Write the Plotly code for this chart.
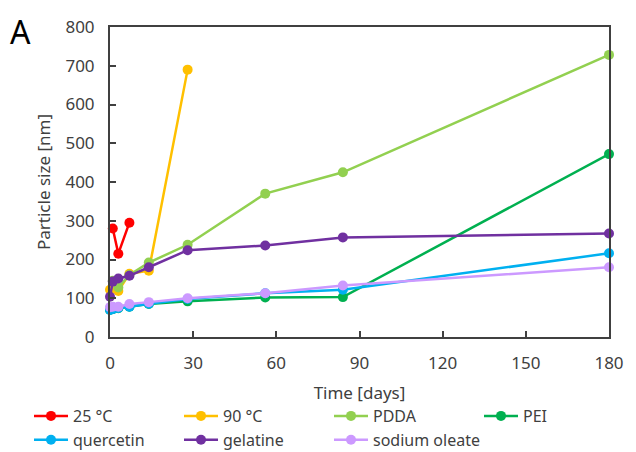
import plotly.graph_objects as go

days_all = [0, 1, 3, 7, 14, 28, 56, 84, 180]

days_25 = [1, 3, 7]
size_25 = [280, 215, 295]

days_90 = [0, 3, 7, 14, 28]
size_90 = [122, 119, 163, 171, 690]

days_pdda = [1, 3, 7, 14, 28, 56, 84, 180]
size_pdda = [145, 128, 160, 192, 238, 370, 425, 728]

size_pei = [70, 72, 74, 78, 85, 92, 102, 103, 472]
size_querc = [70, 72, 75, 78, 86, 98, 113, 122, 216]
size_gel = [104, 143, 151, 158, 180, 224, 236, 257, 267]
size_oleate = [77, 78, 78, 85, 90, 100, 113, 133, 180]

series = [
    ("25 °C", days_25, size_25, "#FF0000"),
    ("90 °C", days_90, size_90, "#FFC000"),
    ("PDDA", days_pdda, size_pdda, "#92D050"),
    ("PEI", days_all, size_pei, "#00B050"),
    ("quercetin", days_all, size_querc, "#00B0F0"),
    ("gelatine", days_all, size_gel, "#7030A0"),
    ("sodium oleate", days_all, size_oleate, "#CC99FF"),
]

x_ticks = [0, 30, 60, 90, 120, 150, 180]
y_ticks = [0, 100, 200, 300, 400, 500, 600, 700, 800]

FONT = "Noto Sans"
GREY = "#404040"

fig = go.Figure()
for name, xs, ys, col in series:
    fig.add_trace(go.Scatter(
        x=xs, y=ys, name=name, mode="lines+markers",
        line=dict(color=col, width=2.5),
        marker=dict(color=col, size=10),
        cliponaxis=False,
    ))

axis_common = dict(
    showline=True, linecolor=GREY, linewidth=2, mirror=True,
    ticks="inside", ticklen=6, tickwidth=1.5, tickcolor=GREY,
    showgrid=False, zeroline=False,
    tickfont=dict(family=FONT, size=17, color=GREY),
    ticklabelstandoff=10,
)

fig.update_layout(
    width=636, height=452,
    margin=dict(l=110, r=27, t=27, b=115, autoexpand=False),
    paper_bgcolor="white", plot_bgcolor="white",
    font=dict(family=FONT, color=GREY),
    showlegend=True,
    legend=dict(
        orientation="h", xref="paper", yref="paper",
        x=(29 - 110) / 499, xanchor="left", y=(337 - 399) / 310, yanchor="top",
        font=dict(family=FONT, size=16, color=GREY),
        entrywidth=101, entrywidthmode="pixels",
        tracegroupgap=0, itemwidth=34,
    ),
    xaxis=dict(range=[0, 180], tickvals=x_ticks, ticktext=[str(v) for v in x_ticks],
               title=dict(text="Time [days]", font=dict(family=FONT, size=17, color=GREY), standoff=14),
               **axis_common),
    yaxis=dict(range=[0, 800], tickvals=y_ticks, ticktext=[str(v) for v in y_ticks],
               title=dict(text="Particle size [nm]", font=dict(family=FONT, size=17, color=GREY), standoff=10),
               **axis_common),
    annotations=[dict(text="A", xref="paper", yref="paper", x=-0.18, y=0.985,
                      xanchor="center", yanchor="middle", showarrow=False,
                      font=dict(family=FONT, size=32, color="black"))],
)

fig.write_html("out.html")
